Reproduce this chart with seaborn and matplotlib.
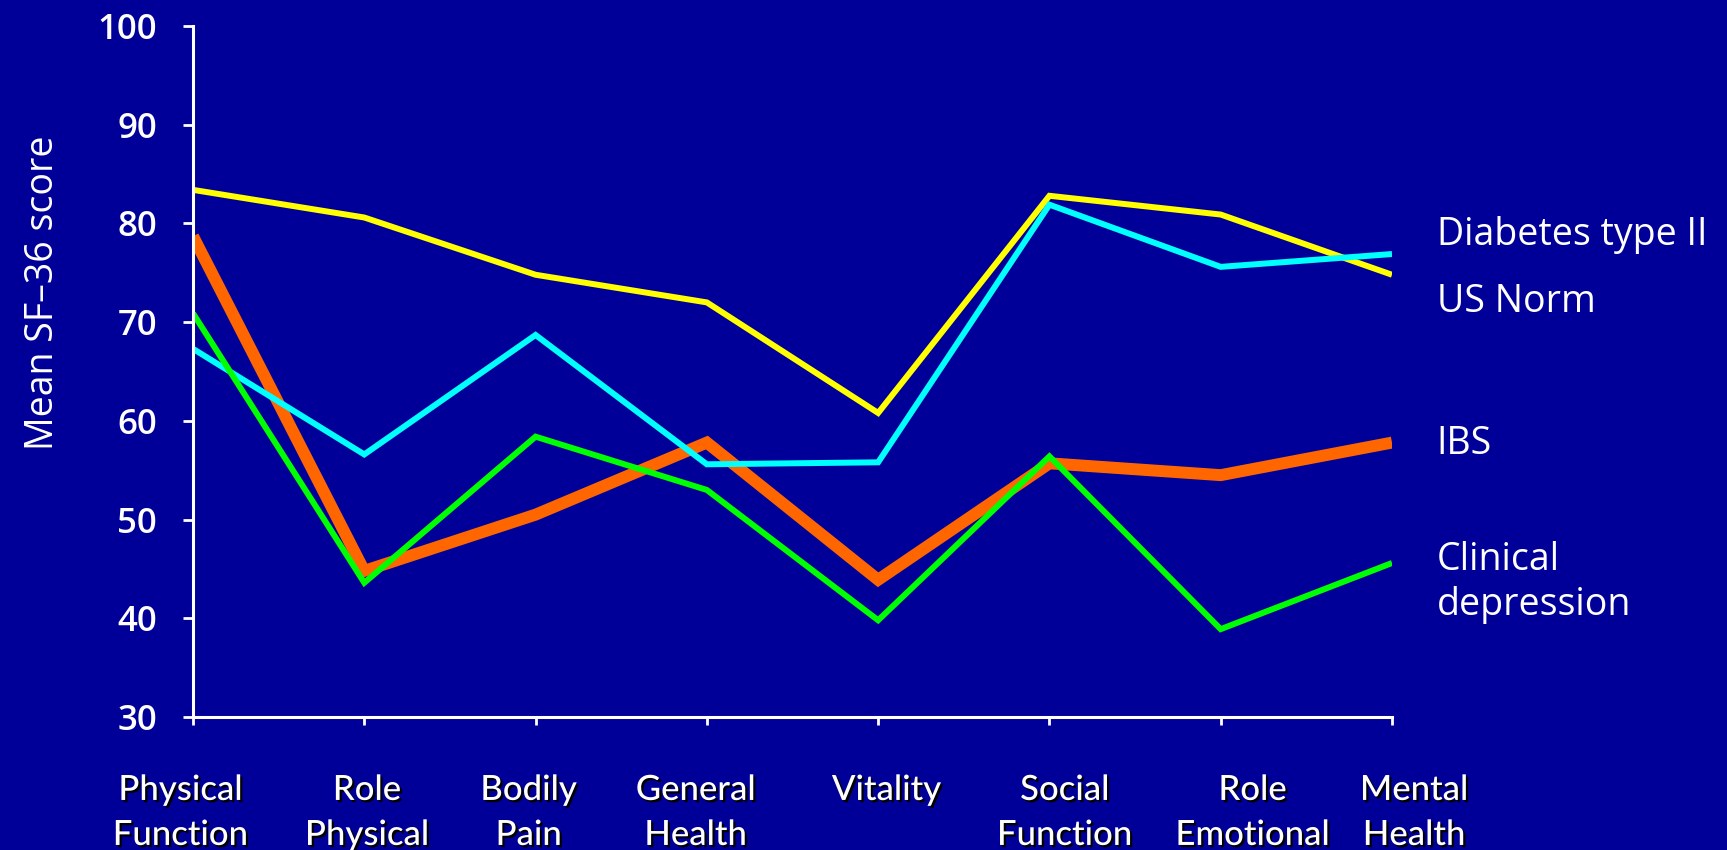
import numpy as np
import pandas as pd
import matplotlib
matplotlib.use("Agg")
import matplotlib.pyplot as plt
import matplotlib.patheffects as pe
import matplotlib.transforms as mtransforms
import seaborn as sns

# SF-36 domains and mean scores per group
domains = ["Physical\nFunction", "Role\nPhysical", "Bodily\nPain", "General\nHealth",
           "Vitality", "Social\nFunction", "Role\nEmotional", "Mental\nHealth"]
ibs = [78.7, 44.8, 50.5, 57.8, 43.9, 55.7, 54.5, 57.8]
diabetes = [83.4, 80.6, 74.8, 72.0, 60.8, 82.8, 80.9, 74.8]
us_norm = [67.3, 56.6, 68.7, 55.6, 55.8, 81.9, 75.6, 76.9]
depression = [70.9, 43.6, 58.4, 53.0, 39.8, 56.4, 38.9, 45.6]
y_ticks = [30, 40, 50, 60, 70, 80, 90, 100]

series_names = ["IBS", "Diabetes type II", "US Norm", "Clinical\ndepression"]
series_values = [ibs, diabetes, us_norm, depression]

BG = "#000099"
colors = {"IBS": "#FF6600", "Diabetes type II": "#FFFF00",
          "US Norm": "#00FFFF", "Clinical\ndepression": "#00FF00"}
widths = {"IBS": 8.6, "Diabetes type II": 4.3, "US Norm": 4.3, "Clinical\ndepression": 4.3}
# vertical placement of the end-of-line captions (in score units)
caption_y = {"Diabetes type II": 78.8, "US Norm": 72.0, "IBS": 57.7,
             "Clinical\ndepression": 43.6}
# horizontal nudges (points) of the category labels under the axis
label_nudge_pt = [-9, 2, -5, -8, 6, 11, 23, 16]

frames = []
for name, vals in zip(series_names, series_values):
    frames.append(pd.DataFrame({"pos": np.arange(len(domains)), "score": vals, "group": name}))
df = pd.concat(frames, ignore_index=True)

sns.set_theme(style="white")
plt.rcParams["font.family"] = ["Open Sans", "DejaVu Sans"]

fig = plt.figure(figsize=(17.27, 8.5), dpi=100, facecolor=BG)
ax = fig.add_axes([193 / 1727, 1 - 717 / 850, (1392 - 193) / 1727, (717 - 26) / 850])
ax.set_facecolor(BG)

for name in series_names:
    sub = df[df["group"] == name]
    sns.lineplot(data=sub, x="pos", y="score", ax=ax, color=colors[name],
                 linewidth=widths[name], legend=False,
                 solid_capstyle="butt", solid_joinstyle="miter")

ax.set_xlim(0, len(domains) - 1)
ax.set_ylim(30, 100)
ax.set_yticks(y_ticks)
ax.set_xticks(np.arange(len(domains)))
ax.set_xticklabels(domains, linespacing=1.5)
ax.set_xlabel("")
ax.set_ylabel("")

for side in ["top", "right"]:
    ax.spines[side].set_visible(False)
for side in ["left", "bottom"]:
    ax.spines[side].set_color("white")
    ax.spines[side].set_linewidth(2.2)

ax.tick_params(axis="y", colors="white", length=7, width=2, direction="out",
               labelsize=25, pad=19, left=True)
ax.tick_params(axis="x", colors="white", length=6, width=2, direction="out",
               labelsize=25, pad=35, bottom=True)
for lab in ax.get_yticklabels():
    lab.set_fontweight("semibold")
shadow = [pe.withSimplePatchShadow(offset=(1.6, -1.6), shadow_rgbFace="black", alpha=1.0)]
for lab, dx in zip(ax.get_xticklabels(), label_nudge_pt):
    lab.set_family(["Lato", "DejaVu Sans"])
    lab.set_fontweight("medium")
    lab.set_path_effects(shadow)
    lab.set_verticalalignment("top")
    lab.set_transform(lab.get_transform() +
                      mtransforms.ScaledTranslation(dx / 72, 0, fig.dpi_scale_trans))

for name in series_names:
    ax.text(7.26, caption_y[name], name, color="white", fontsize=27,
            ha="left", va="center", clip_on=False, linespacing=1.25)

fig.text(43 / 1727, 1 - 293 / 850, "Mean SF–36 score", color="white", fontsize=27,
         rotation=90, ha="center", va="center")

fig.savefig("out.png", dpi=100, facecolor=BG)
